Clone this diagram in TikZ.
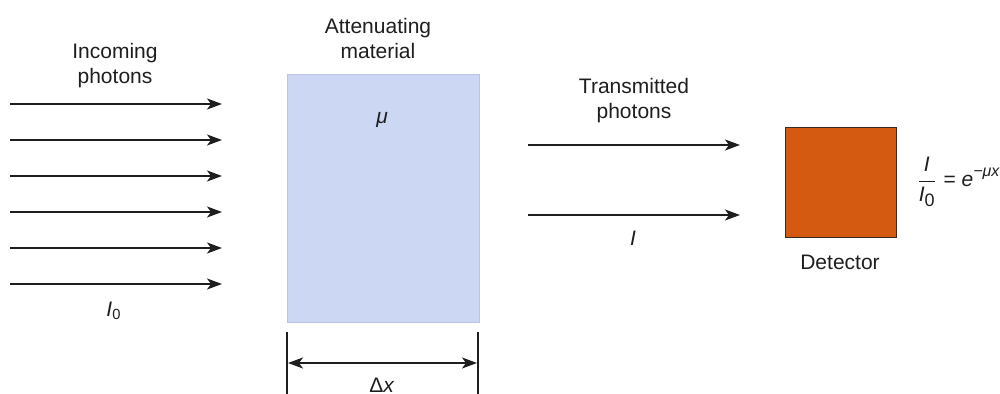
\documentclass[tikz,border=0pt]{standalone}
\usepackage{fontspec}
\setmainfont{Liberation Sans}
\usetikzlibrary{arrows.meta}
\definecolor{slab}{HTML}{CCD7F4}
\definecolor{slabline}{HTML}{B8C3E8}
\definecolor{det}{HTML}{D45A12}
\definecolor{detline}{HTML}{3A2A20}
\definecolor{ink}{HTML}{1E1E1E}
\begin{document}
\begin{tikzpicture}[x=0.5pt,y=-0.5pt,
  txt/.style={font=\fontsize{10.5}{12.5}\selectfont, text=ink, align=center, inner sep=0pt},
  ray/.style={draw=ink, line width=0.75pt, -{Stealth[length=7.5pt,width=5.5pt,inset=2pt]}},
  dim/.style={draw=ink, line width=0.75pt, {Stealth[length=7.5pt,width=5.5pt,inset=2pt]}-{Stealth[length=7.5pt,width=5.5pt,inset=2pt]}},
  ext/.style={draw=ink, line width=0.9pt}]
\useasboundingbox (0,0) rectangle (1000,394);
% incoming rays
\foreach \i/\y in {1/104,2/140,3/176,4/212,5/248,6/284}{
  \coordinate (a\i) at (10,\y);
  \coordinate (b\i) at (222,\y);
  \draw[ray] (a\i) -- (b\i);
}
\node[txt] (inc) at (115,66) {Incoming\\photons};
\node[txt] (I0) at (114,311) {\textit{I}\textsubscript{0}};
% slab
\node[draw=slabline, fill=slab, line width=0.6pt, minimum width=96pt, minimum height=124pt, inner sep=0pt, anchor=north west] (slab) at (287,74) {};
\node[txt] (att) at (378,39) {Attenuating\\material};
\node[txt] (mu) at (382,120) {\textit{μ}};
% dimension
\coordinate (l1) at (287,332); \coordinate (l2) at (287,394);
\coordinate (r1) at (478,332); \coordinate (r2) at (478,394);
\draw[ext] (l1) -- (l2);
\draw[ext] (r1) -- (r2);
\coordinate (d1) at (288,363); \coordinate (d2) at (477,363);
\draw[dim] (d1) -- (d2);
\node[txt] (dx) at (382,385) {Δ\textit{x}};
% transmitted
\coordinate (t1) at (528,145); \coordinate (t2) at (740,145);
\coordinate (t3) at (528,215); \coordinate (t4) at (740,215);
\draw[ray] (t1) -- (t2);
\draw[ray] (t3) -- (t4);
\node[txt] (tr) at (634,101) {Transmitted\\photons};
\node[txt] (I) at (633,238) {\textit{I}};
% detector
\node[draw=detline, fill=det, line width=0.7pt, minimum width=55.5pt, minimum height=55pt, inner sep=0pt, anchor=north west] (detector) at (785,127) {};
\node[txt] (dl) at (840,262) {Detector};
\node[txt, anchor=west] (eq) at (916,182) {$\displaystyle\frac{\mbox{\itshape I}}{\mbox{\itshape I\raisebox{-0.4ex}{\upshape\small 0}}}\mkern0.5mu\mbox{ = \itshape e\raisebox{0.9ex}{\footnotesize −μx}}$};
\end{tikzpicture}
\end{document}
